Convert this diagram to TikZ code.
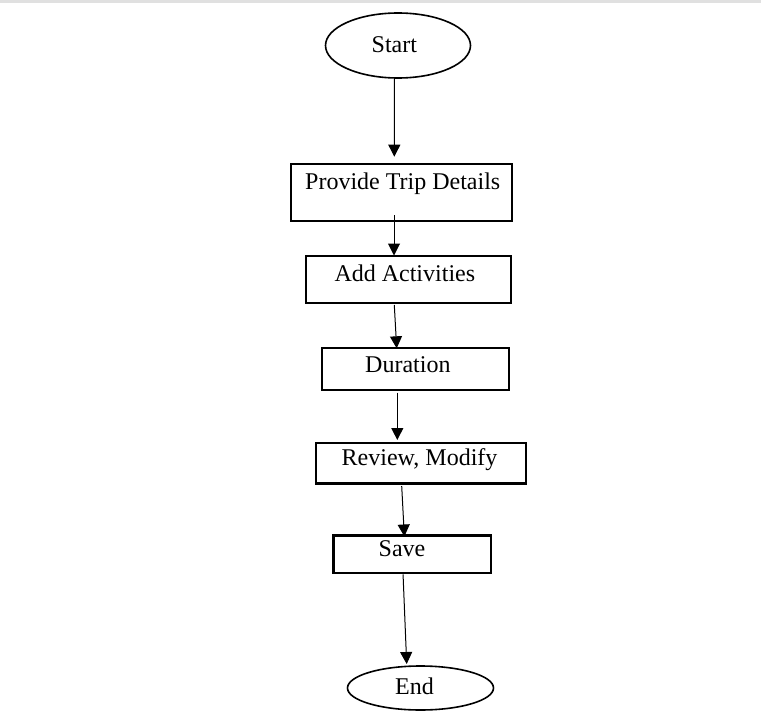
\documentclass[tikz,border=0pt]{standalone}
\usepackage{fontspec}
\setmainfont{Liberation Serif}
\usetikzlibrary{shapes, arrows.meta, positioning}

\begin{document}
\begin{tikzpicture}[x=1pt, y=-1pt,
        basic/.style    = {draw, inner sep=0pt, outer sep=0pt},
        terminal/.style = {basic, ellipse, line width=1.6pt},
        stepbox/.style  = {basic, rectangle, line width=2.2pt, anchor=north west},
        txt/.style      = {inner sep=0pt, anchor=base west, font=\fontsize{24}{28}\selectfont},
        flow/.style     = {->, line width=1pt},
        >={Triangle[length=12pt, width=12pt]}]

    \useasboundingbox (0,0) rectangle (761,720);
    \fill[black!12] (0,0) rectangle (761,3);

    % start and end of the flow
    \node[terminal, minimum width=145pt, minimum height=65pt] (start) at (398,45.5) {};
    \node[terminal, minimum width=146pt, minimum height=44pt] (finish) at (420.5,688) {};

    % the steps, placed by their top left corner
    \node[stepbox, minimum width=220.4pt, minimum height=57.3pt] (details) at (291.3,164) {};
    \node[stepbox, minimum width=205.1pt, minimum height=46.6pt] (activities) at (306.2,256.2) {};
    \node[stepbox, minimum width=187.5pt, minimum height=42.4pt] (duration) at (321.7,347.8) {};
    \node[stepbox, minimum width=210pt, minimum height=40.7pt] (review) at (316.2,442.8) {};
    \node[stepbox, minimum width=157.7pt, minimum height=37.3pt] (save) at (333.5,535.5) {};

    % texts, set near the top left of each shape
    \node[txt] (start-t) at (371.5,52.7) {Start};
    \node[txt] (details-t) at (305,189.3) {Provide Trip Details};
    \node[txt] (activities-t) at (334.3,281.7) {Add Activities};
    \node[txt] (duration-t) at (365,372.7) {Duration};
    \node[txt] (review-t) at (341.5,465) {Review, Modify};
    \node[txt] (save-t) at (378.5,556.7) {Save};
    \node[txt] (finish-t) at (395,694) {End};

    % arrows between the steps
    \draw[flow] ([xshift=-3.6pt, yshift=-1pt]start.south) -- ([xshift=-7.2pt, yshift=7.3pt]details.north);
    \draw[flow] ([xshift=-7.5pt, yshift=6.3pt]details.south) -- ([xshift=-14.75pt, yshift=0.7pt]activities.north);
    \draw[flow] ([xshift=-14.45pt, yshift=-2.2pt]activities.south) -- ([xshift=-18.75pt, yshift=-0.5pt]duration.north);
    \draw[flow] ([xshift=-18.15pt, yshift=-2.5pt]duration.south) -- ([xshift=-23.9pt, yshift=2.8pt]review.north);
    \draw[flow] ([xshift=-19.5pt, yshift=-2.5pt]review.south) -- ([xshift=-8pt, yshift=-1pt]save.north);
    \draw[flow] ([xshift=-9.3pt, yshift=-1.5pt]save.south) -- ([xshift=-13.8pt, yshift=2pt]finish.north);

\end{tikzpicture}
\end{document}
